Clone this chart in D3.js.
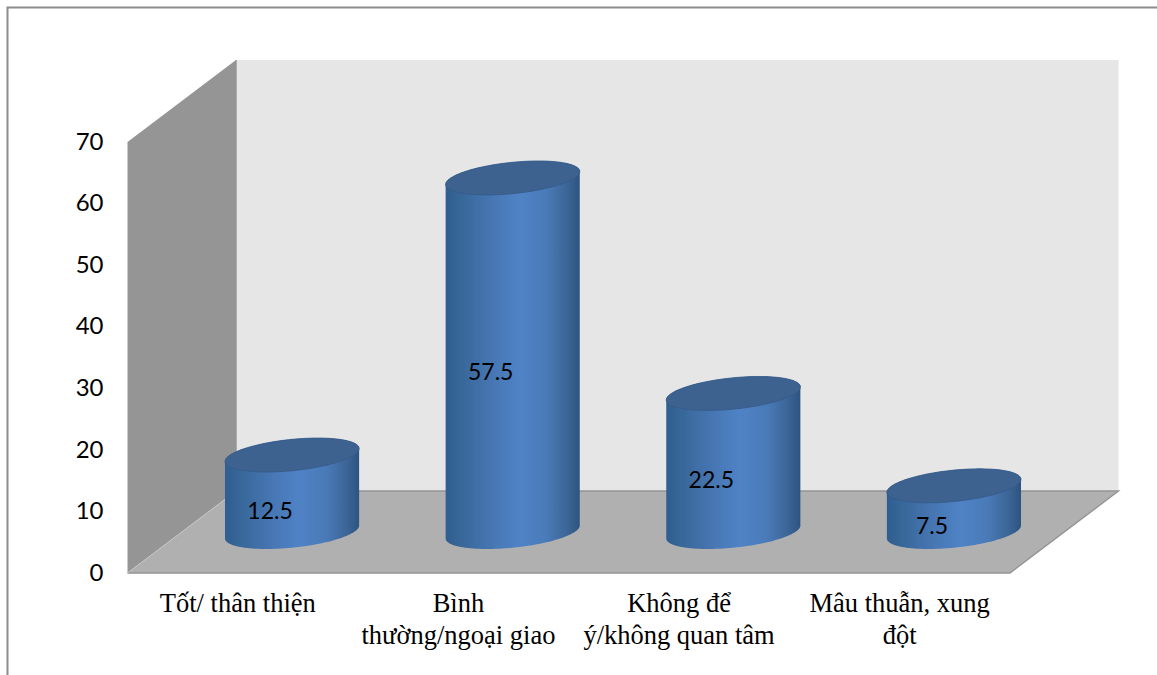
<!DOCTYPE html>
<html><head><meta charset="utf-8">
<script src="https://cdn.jsdelivr.net/npm/d3@7"></script>
<style>html,body{margin:0;padding:0;background:#fff;overflow:hidden}svg{display:block}</style>
</head><body><div id="c"></div>
<script>
const categories = ["Tốt/ thân thiện", "Bình\nthường/ngoại giao", "Không để\ný/không quan tâm", "Mâu thuẫn, xung\nđột"];
const values = [12.5, 57.5, 22.5, 7.5];
const yTicks = [0, 10, 20, 30, 40, 50, 60, 70];

const W = 1157, H = 675;
const frontLeft = 127.5, frontRight = 1010, frontBase = 573, frontTop = 142;
const depthX = 108.5, depthY = -82;
const svg = d3.select("#c").append("svg").attr("width", W).attr("height", H);
const defs = svg.append("defs");
const grad = defs.append("linearGradient").attr("id", "cyl").attr("x1", 0).attr("x2", 1).attr("y1", 0).attr("y2", 0);
[[0, "#2f5d90"], [0.08, "#356595"], [0.3, "#4473ae"], [0.55, "#5083c6"], [0.75, "#4a7ab8"], [0.9, "#3c6698"], [1, "#2e5480"]]
  .forEach(([o, c]) => grad.append("stop").attr("offset", o).attr("stop-color", c));
defs.append("filter").attr("id", "soft").append("feGaussianBlur").attr("stdDeviation", 0.5);

const x = d3.scaleBand().domain(categories).range([frontLeft, frontRight]);
const y = d3.scaleLinear().domain([0, 70]).range([frontBase, frontTop]);

// outer frame
svg.append("path").attr("d", `M7.5,${H}V7.5H${W}`).attr("fill", "none").attr("stroke", "#8c8c8c").attr("stroke-width", 2);

// walls
const walls = svg.append("g").attr("filter", "url(#soft)");
const poly = d3.line();
const bx = frontLeft + depthX, by = frontBase + depthY, tb = frontTop + depthY;
walls.append("path").attr("d", poly([[bx, tb], [frontRight + depthX, tb], [frontRight + depthX, by], [bx, by]]) + "Z").attr("fill", "#e6e6e6");
walls.append("path").attr("d", poly([[frontLeft, frontTop], [bx, tb], [bx, by], [frontLeft, frontBase]]) + "Z").attr("fill", "#959595");
walls.append("path").attr("d", poly([[frontLeft, frontBase], [bx, by], [frontRight + depthX, by], [frontRight, frontBase]]) + "Z").attr("fill", "#b0b0b0");
walls.append("path").attr("d", poly([[bx, tb], [bx, by], [frontRight + depthX, by], [frontRight, frontBase], [frontLeft, frontBase]])).attr("fill", "none").attr("stroke", "#949494").attr("stroke-width", 1.4);
walls.append("path").attr("d", poly([[frontLeft, frontBase], [bx, by]])).attr("stroke", "#c4c4c4").attr("stroke-width", 1).attr("fill", "none");

// cylinders
const rx = x.bandwidth() * 0.304, skew = -6.5, ry = 15.7;
const angles = d3.range(0, 2 * Math.PI + 0.001, Math.PI / 60);
const ell = (cx, cy, t) => [cx + rx * Math.cos(t), cy + skew * Math.cos(t) + ry * Math.sin(t)];
const rows = categories.map((c, i) => ({c, v: values[i]}));
const bars = svg.append("g").attr("filter", "url(#soft)").selectAll("g").data(rows).join("g");
const cxOf = d => x(d.c) + x.bandwidth() / 2 + depthX / 2;
const baseY = frontBase + depthY / 2;
const topY = d => baseY - (frontBase - y(d.v));
bars.append("path").attr("d", d => {
  const cx = cxOf(d);
  const lower = d3.range(0, Math.PI + 0.001, Math.PI / 60).map(t => ell(cx, baseY, t));
  const upper = d3.range(Math.PI, 2 * Math.PI + 0.001, Math.PI / 60).map(t => ell(cx, topY(d), t));
  return poly(lower.concat(upper)) + "Z";
}).attr("fill", "url(#cyl)");
bars.append("path").attr("d", d => poly(angles.map(t => ell(cxOf(d), topY(d), t))) + "Z").attr("fill", "#3c6290").attr("stroke", "#355a88").attr("stroke-width", 0.8);

// value labels
svg.append("g").selectAll("text").data(rows).join("text")
  .attr("x", d => cxOf(d) - 22)
  .attr("y", d => (baseY + topY(d)) / 2 + 25)
  .attr("text-anchor", "middle").attr("fill", "#000")
  .attr("font-family", "Lato,sans-serif").attr("font-size", 23)
  .text(d => d.v);

// y axis
const gy = svg.append("g").attr("transform", `translate(${frontLeft},0)`)
  .call(d3.axisLeft(y).tickValues(yTicks).tickSize(0).tickPadding(24));
gy.select(".domain").remove();
gy.selectAll("text").attr("font-family", "Lato,sans-serif").attr("font-size", 24).attr("fill", "#000").attr("dy", "0.3em");

// x labels
const xl = svg.append("g").selectAll("text").data(categories).join("text")
  .attr("text-anchor", "middle").attr("fill", "#000")
  .attr("font-family", "'Liberation Serif',serif").attr("font-size", 26.5);
xl.each(function (c) {
  c.split("\n").forEach((line, i) => {
    d3.select(this).append("tspan").attr("x", x(c) + x.bandwidth() / 2).attr("y", 612 + i * 31.5).text(line);
  });
});
</script></body></html>
